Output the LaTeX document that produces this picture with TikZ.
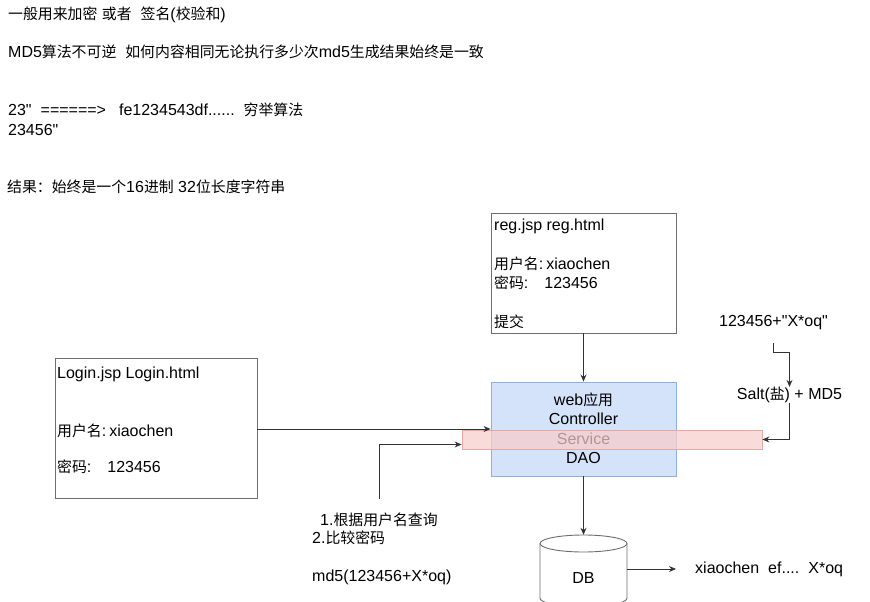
\documentclass[tikz,border=0pt]{standalone}
\usepackage{fontspec}
\setmainfont{Liberation Sans}
\newfontfamily\cjk[Scale=0.93]{Noto Sans CJK SC}
\newcommand\zh[1]{{\cjk #1}}
\newcommand\myfs{\fontsize{16}{19}\selectfont}
\newcommand\dq{\textquotedbl}
\usetikzlibrary{arrows.meta,calc}
\definecolor{lineC}{HTML}{333333}
\definecolor{boxC}{HTML}{6E6E6E}
\definecolor{webFill}{HTML}{D4E3FA}
\definecolor{webLine}{HTML}{8FB0DE}
\definecolor{pinkFill}{HTML}{F8CECC}
\definecolor{pinkLine}{HTML}{E3A3A0}
\tikzset{
  every node/.style={font=\myfs, text=black},
  txt/.style={anchor=west, inner sep=0pt},
  ctxt/.style={anchor=center, inner sep=0pt},
  pagebox/.style={draw=boxC, line width=0.9pt, inner sep=0pt},
  arr/.style={draw=lineC, line width=0.9pt, -{Stealth[length=7pt,width=6pt]}},
}
\begin{document}
\begin{tikzpicture}[x=1pt,y=-1pt]
\fill[white] (0,0) rectangle (870,602);
\useasboundingbox (0,0) rectangle (870,602);

% header texts
\node[txt] (t1) at (8,15) {\zh{一般用来加密} \zh{或者}\hspace{9pt}\zh{签名}(\zh{校验和})};
\node[txt] (t2) at (8,52) {MD5\zh{算法不可逆}\hspace{9pt}\zh{如何内容相同无论执行多少次}md5\zh{生成结果始终是一致}};
\node[txt] (t3) at (8,110) {23\dq\hspace{9pt}======>\hspace{13pt}fe1234543df......\hspace{9pt}\zh{穷举算法}};
\node[txt] (t4) at (8,130) {23456\dq};
\node[txt] (t5) at (7,187) {\zh{结果：始终是一个}16\zh{进制} 32\zh{位长度字符串}};

% reg box
\node[pagebox, minimum width=185pt, minimum height=120pt] (reg) at (583.5,273) {};
\node[txt] (r1) at (494,226) {reg.jsp reg.html};
\node[txt] (r2) at (494,264) {\zh{用户名}:\hspace{3pt}xiaochen};
\node[txt] (r3) at (494,283) {\zh{密码}:\hspace{16pt}123456};
\node[txt] (r4) at (494,322) {\zh{提交}};

% login box
\node[pagebox, minimum width=202pt, minimum height=140pt] (login) at (156,428) {};
\node[txt] (l1) at (57,374) {Login.jsp Login.html};
\node[txt] (l2) at (57,431) {\zh{用户名}:\hspace{3pt}xiaochen};
\node[txt] (l3) at (57,467) {\zh{密码}:\hspace{16pt}123456};

% web box
\node[draw=webLine, fill=webFill, line width=0.9pt, minimum width=185pt, minimum height=94pt, inner sep=0pt] (web) at (583.5,429) {};
\node[ctxt] (w1) at (583.5,400) {web\zh{应用}};
\node[ctxt] (w2) at (583.5,419) {Controller};
\node[ctxt] (w3) at (583.5,439) {Service};
\node[ctxt] (w4) at (583.5,458) {DAO};

% service overlay
\node[draw=pinkLine, fill=pinkFill, fill opacity=0.72, draw opacity=0.9, line width=0.8pt, minimum width=300pt, minimum height=19pt, inner sep=0pt] (pink) at (612,439.5) {};

% DB cylinder
\node[minimum width=87pt, minimum height=63pt, inner sep=0pt] (db) at (583.5,566.5) {};
\draw[boxC, fill=white, line width=0.9pt] (540,543.5) -- (540,598) .. controls (540,609.3) and (627,609.3) .. (627,598) -- (627,543.5);
\draw[boxC, fill=white, line width=0.9pt] (583.5,543.5) ellipse [x radius=43.5, y radius=8.5];
\node[ctxt] (dbl) at (583.5,578) {DB};
\node[txt] (dbtxt) at (695,569) {xiaochen\hspace{9pt}ef....\hspace{9pt}X*oq};

% query texts
\node[txt] (q1) at (320,520) {1.\zh{根据用户名查询}};
\node[txt] (q2) at (312,538) {2.\zh{比较密码}};
\node[txt] (q3) at (312,577) {md5(123456+X*oq)};

% salt texts
\node[ctxt] (s0) at (773.5,323) {123456+\dq X*oq\dq};
\node[ctxt] (salt) at (789.5,395) {Salt(\zh{盐}) + MD5};

% connectors
\draw[arr] (reg.south) -- (web.north);
\draw[arr] (login.east |- 0,429) -- (web.west |- 0,429);
\draw[arr, shorten <=14pt] (q1.north) |- ([yshift=-5pt]pink.west);
\draw[arr] (web.south) -- (db.north);
\draw[arr, shorten >=19pt] (db.east |- 0,569) -- (dbtxt.west);
\draw[arr, shorten <=13pt] (s0.south) -- ++(0,22) -| (salt.north);
\draw[arr] (salt.south) |- (pink.east);
\end{tikzpicture}
\end{document}
